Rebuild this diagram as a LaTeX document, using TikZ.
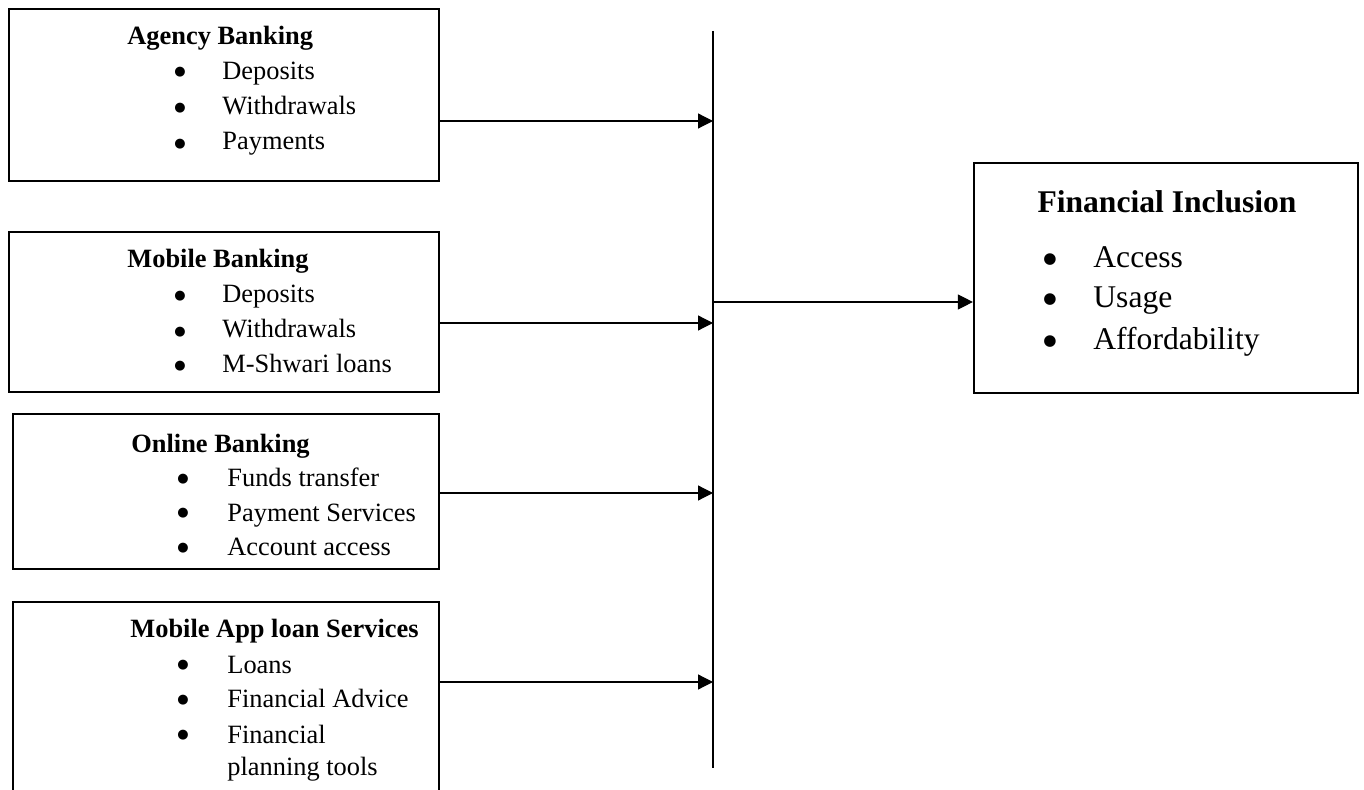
\documentclass[tikz,border=0pt]{standalone}
\usepackage{fontspec}
\setmainfont{Liberation Serif}
\newfontfamily\dejavu{DejaVu Sans}
\usetikzlibrary{arrows.meta,fit}
\begin{document}
\begin{tikzpicture}[x=0.5pt,y=-0.5pt,
  box/.style={draw, line width=1.1pt, inner sep=0pt},
  conn/.style={line width=0.6pt},
  arr/.style={conn,-{Triangle[length=7.5pt,width=7.5pt]}},
  txt/.style={inner sep=0pt, anchor=base west, font=\fontsize{13.2}{15}\selectfont},
  ttl/.style={inner sep=0pt, anchor=base west, font=\fontsize{13.2}{15}\selectfont\bfseries},
  bul/.style={inner sep=0pt, anchor=center, font=\dejavu\fontsize{6.5}{7}\selectfont},
  btxt/.style={inner sep=0pt, anchor=base west, font=\fontsize{15.8}{18}\selectfont},
  bttl/.style={inner sep=0pt, anchor=base, font=\fontsize{15.8}{18}\selectfont\bfseries},
  bbul/.style={inner sep=0pt, anchor=center, font=\dejavu\fontsize{7.6}{8}\selectfont}
]
\useasboundingbox (0,0) rectangle (1364,790);
\clip (0,0) rectangle (1364,790);

% boxes
\node[box, fit={(9,9) (439,181)}] (b1) {};
\node[box, fit={(9,232) (439,392)}] (b2) {};
\node[box, fit={(13,414) (439,569)}] (b3) {};
\node[box, fit={(13,602) (439,810)}] (b4) {};
\node[box, fit={(974,163) (1358,393)}] (fi) {};

% box 1
\node[ttl] (b1t) at (127,45) {Agency Banking};
\node[bul] (b1b1) at (180,72) {●};
\node[bul] (b1b2) at (180,108) {●};
\node[bul] (b1b3) at (180,144) {●};
\node[txt] (b1i1) at (222,80) {Deposits};
\node[txt] (b1i2) at (222,115) {Withdrawals};
\node[txt] (b1i3) at (222,150) {Payments};

% box 2
\node[ttl] (b2t) at (127,268) {Mobile Banking};
\node[bul] (b2b1) at (180,296) {●};
\node[bul] (b2b2) at (180,332) {●};
\node[bul] (b2b3) at (180,366) {●};
\node[txt] (b2i1) at (222,303) {Deposits};
\node[txt] (b2i2) at (222,338) {Withdrawals};
\node[txt] (b2i3) at (222,373) {M-Shwari loans};

% box 3
\node[ttl] (b3t) at (131,452) {Online Banking};
\node[bul] (b3b1) at (183,479) {●};
\node[bul] (b3b2) at (183,513) {●};
\node[bul] (b3b3) at (183,548) {●};
\node[txt] (b3i1) at (227,487) {Funds transfer};
\node[txt] (b3i2) at (227,521) {Payment Services};
\node[txt] (b3i3) at (227,555) {Account access};

% box 4
\node[ttl] (b4t) at (130,637) {Mobile App loan Services};
\node[bul] (b4b1) at (183,665) {●};
\node[bul] (b4b2) at (183,700) {●};
\node[bul] (b4b3) at (183,735) {●};
\node[txt] (b4i1) at (227,673) {Loans};
\node[txt] (b4i2) at (227,707) {Financial Advice};
\node[txt] (b4i3) at (227,743) {Financial};
\node[txt] (b4i4) at (227,775) {planning tools};

% financial inclusion
\node[bttl] (fit) at (1167,213) {Financial Inclusion};
\node[bbul] (fib1) at (1050,260) {●};
\node[bbul] (fib2) at (1050,300) {●};
\node[bbul] (fib3) at (1050,342) {●};
\node[btxt] (fii1) at (1093,268) {Access};
\node[btxt] (fii2) at (1093,308) {Usage};
\node[btxt] (fii3) at (1093,350) {Affordability};

% vertical bar
\coordinate (vtop) at (713,31);
\coordinate (vbot) at (713,768);
\draw[conn] (vtop) -- (vbot);
\coordinate (v1) at (713,121);
\coordinate (v2) at (713,323);
\coordinate (v3) at (713,493);
\coordinate (v4) at (713,682);
\coordinate (vo) at (713,302);

\draw[arr] (b1.east |- v1) -- (v1);
\draw[arr] (b2.east |- v2) -- (v2);
\draw[arr] (b3.east |- v3) -- (v3);
\draw[arr] (b4.east |- v4) -- (v4);
\draw[arr] (vo) -- (vo -| fi.west);
\end{tikzpicture}
\end{document}
